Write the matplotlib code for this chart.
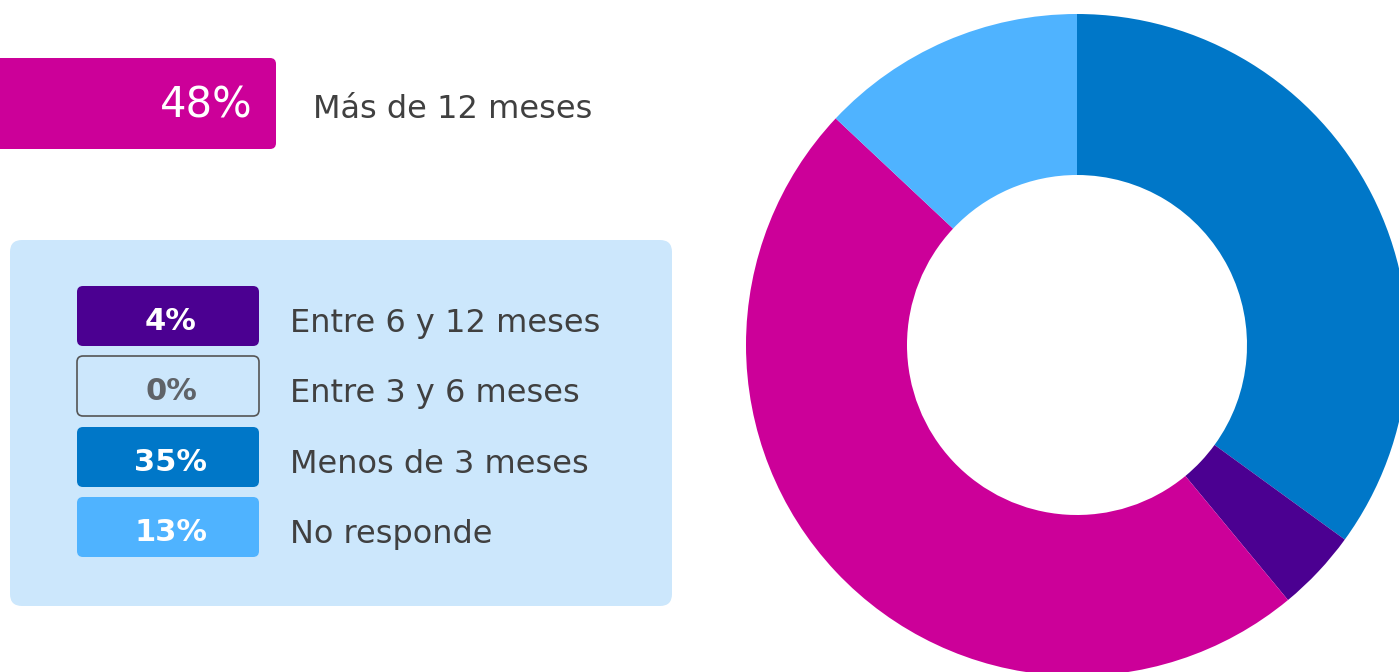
import matplotlib
matplotlib.use("Agg")
import matplotlib.pyplot as plt
from matplotlib.patches import FancyBboxPatch

# Data
categories = ["Menos de 3 meses", "Entre 6 y 12 meses", "Entre 3 y 6 meses", "Más de 12 meses", "No responde"]
values = [35, 4, 0, 48, 13]
colors = ["#0077C8", "#4B0091", "#CCE7FC", "#CC0099", "#4FB3FF"]

legend_labels = ["Entre 6 y 12 meses", "Entre 3 y 6 meses", "Menos de 3 meses", "No responde"]
legend_values = ["4%", "0%", "35%", "13%"]
legend_fill = ["#4B0091", "#CCE7FC", "#0077C8", "#4FB3FF"]
legend_text_col = ["white", "#5f6368", "white", "white"]
legend_edge = ["none", "#555555", "none", "none"]

top_label = "Más de 12 meses"
top_value = "48%"

W, H = 1399, 672
fig = plt.figure(figsize=(W / 100, H / 100), dpi=100)
fig.patch.set_facecolor("white")

FONT = "DejaVu Sans"
TEXT_GRAY = "#404040"

# Background axes in pixel coordinates
ax = fig.add_axes([0, 0, 1, 1])
ax.set_xlim(0, W)
ax.set_ylim(H, 0)
ax.axis("off")
ax.patch.set_alpha(0)

# Top magenta box
ax.add_patch(FancyBboxPatch((-20, 58), 296, 91, boxstyle="round,pad=0,rounding_size=6",
                            fc="#CC0099", ec="none"))
ax.text(253, 118, top_value, color="white", fontsize=30, ha="right", va="baseline", family=FONT)
ax.text(313, 118, top_label, color=TEXT_GRAY, fontsize=23, ha="left", va="baseline", family=FONT)

# Light blue panel
ax.add_patch(FancyBboxPatch((10, 240), 662, 366, boxstyle="round,pad=0,rounding_size=12",
                            fc="#CCE7FC", ec="none"))

box_tops = [286, 356, 427, 497]
box_h = 60
for i, (lab, val) in enumerate(zip(legend_labels, legend_values)):
    y0 = box_tops[i]
    ax.add_patch(FancyBboxPatch((77, y0), 182, box_h, boxstyle="round,pad=0,rounding_size=6",
                                fc=legend_fill[i], ec=legend_edge[i], lw=1.2))
    ax.text(171, y0 + 44, val, color=legend_text_col[i], fontsize=22, fontweight="bold",
            ha="center", va="baseline", family=FONT)
    ax.text(290, y0 + 46, lab, color=TEXT_GRAY, fontsize=23, ha="left", va="baseline", family=FONT)

# Donut chart
cx, cy, R = 1077, 345, 331
axp = fig.add_axes([(cx - R) / W, (H - cy - R) / H, 2 * R / W, 2 * R / H])
axp.set_xlim(-1, 1)
axp.set_ylim(-1, 1)
axp.set_aspect("equal")
axp.axis("off")
axp.patch.set_alpha(0)
axp.pie(values, colors=colors, startangle=90, counterclock=False, radius=1,
        wedgeprops=dict(width=1 - 170 / 331, edgecolor="none"))
axp.set_xlim(-1, 1)
axp.set_ylim(-1, 1)

fig.savefig("out.png", dpi=100, facecolor="white")
